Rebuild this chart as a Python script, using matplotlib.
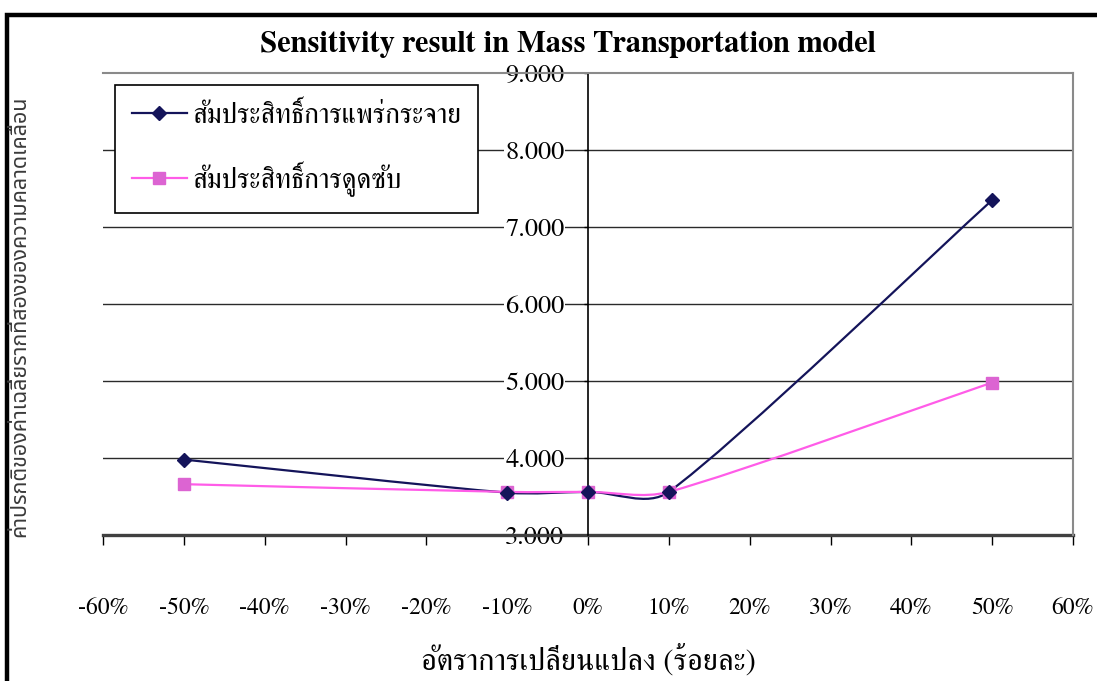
import matplotlib
matplotlib.use("Agg")
import matplotlib.pyplot as plt
import numpy as np
from matplotlib.path import Path
from matplotlib.patches import PathPatch, Rectangle
from matplotlib.lines import Line2D
from matplotlib.ticker import FuncFormatter

plt.rcParams['font.family'] = ['FreeSerif', 'DejaVu Serif']

# percentage change of each coefficient
change_pct = [-50, -10, 0, 10, 50]
diffusion = [3.98, 3.55, 3.56, 3.56, 7.35]
absorption = [3.66, 3.56, 3.56, 3.56, 4.98]

series_names = ['สัมประสิทธิ์การแพร่กระจาย', 'สัมประสิทธิ์การดูดซับ']
title = 'Sensitivity result in Mass Transportation model'
x_label = 'อัตราการเปลี่ยนแปลง (ร้อยละ)'
y_label = 'ค่าปรกติของค่าเฉลี่ยรากที่สองของความคลาดเคลื่อน'

x_ticks = list(range(-60, 61, 10))
y_ticks = [3, 4, 5, 6, 7, 8, 9]

NAVY = '#14145a'
PINK_LINE = '#ff5ce8'
PINK_MARK = '#dc64d2'


def smooth_path(ax, xs, ys):
    """Excel-style smoothed line as cubic Bezier segments (computed in pixel space)."""
    pts = ax.transData.transform(np.column_stack([xs, ys]))
    n = len(pts)
    verts = [pts[0]]
    codes = [Path.MOVETO]
    for i in range(n - 1):
        p0 = pts[max(i - 1, 0)]
        p1 = pts[i]
        p2 = pts[i + 1]
        p3 = pts[min(i + 2, n - 1)]
        seg = np.hypot(*(p2 - p1)) / 3.0
        d1 = (p2 - p0) / 6.0
        d2 = (p3 - p1) / 6.0
        for d in (d1, d2):
            m = np.hypot(*d)
            if m > seg:
                d *= seg / m
        verts += [p1 + d1, p2 - d2, p2]
        codes += [Path.CURVE4] * 3
    data_verts = ax.transData.inverted().transform(np.array(verts))
    return Path(data_verts, codes)


fig = plt.figure(figsize=(10.97, 6.81), dpi=100)
ax = fig.add_axes([103 / 1097, 1 - 535 / 681, 970 / 1097, 462 / 681])
ax.set_xlim(-60, 60)
ax.set_ylim(3, 9)

# spines: value axis crosses at 0%
ax.spines['left'].set_position(('data', 0))
ax.spines['left'].set_color('black')
ax.spines['left'].set_linewidth(1.2)
ax.spines['top'].set_color('#8a8a8a')
ax.spines['right'].set_color('#8a8a8a')
ax.spines['top'].set_linewidth(1.5)
ax.spines['right'].set_linewidth(1.5)
ax.spines['bottom'].set_color('#404040')
ax.spines['bottom'].set_linewidth(2.4)
ax.spines['bottom'].set_zorder(2)

ax.set_yticks(y_ticks)
ax.set_xticks(x_ticks)
ax.yaxis.set_major_formatter(FuncFormatter(lambda v, p: f'{v:.3f}'))
ax.xaxis.set_major_formatter(FuncFormatter(lambda v, p: f'{v:.0f}%'))
ax.tick_params(axis='y', direction='out', length=3, width=1, pad=14,
               labelsize=19, colors='black')
ax.tick_params(axis='x', direction='out', length=7, width=1, pad=38,
               labelsize=17, colors='black')

for yv in y_ticks[:-1]:
    ax.axhline(yv, color='#2a2a2a', linewidth=1.0, zorder=1)
ax.axhline(y_ticks[-1], color='#555555', linewidth=1.3, zorder=1)

# value labels sit on a white patch over the gridlines
for lbl in ax.get_yticklabels():
    lbl.set_bbox(dict(facecolor='white', edgecolor='none', pad=0.5))
    lbl.set_zorder(6)

# smoothed lines
for vals, col in ((diffusion, NAVY), (absorption, PINK_LINE)):
    path = smooth_path(ax, change_pct, vals)
    ax.add_patch(PathPatch(path, facecolor='none', edgecolor=col,
                           linewidth=1.6, zorder=3))

ax.plot(change_pct, absorption, linestyle='none', marker='s', markersize=8.5,
        color=PINK_MARK, zorder=4)
ax.plot(change_pct, diffusion, linestyle='none', marker='D', markersize=7.5,
        color=NAVY, zorder=5)

handles = [
    Line2D([], [], color=NAVY, linewidth=1.6, marker='D', markersize=7.5),
    Line2D([], [], color=PINK_LINE, linewidth=1.6, marker='s', markersize=8.5,
           markerfacecolor=PINK_MARK, markeredgecolor=PINK_MARK),
]
leg = ax.legend(handles, series_names, loc='upper left',
                bbox_to_anchor=(12 / 970, 1 - 12 / 462), borderaxespad=0,
                fontsize=20, frameon=True, fancybox=False, handlelength=2.0,
                labelspacing=1.15, borderpad=0.6, handletextpad=0.2)
leg.get_frame().set_edgecolor('black')
leg.get_frame().set_linewidth(1.2)
leg.get_frame().set_facecolor('white')
leg.get_frame().set_alpha(1)
leg.set_zorder(7)

fig.text(568 / 1097, 1 - 44 / 681, title, ha='center', va='center',
         fontsize=22, fontweight='bold')
fig.text(588 / 1097, 1 - 660 / 681, x_label, ha='center', va='center',
         fontsize=22)
fig.text(20 / 1097, 1 - 316 / 681, y_label, ha='center', va='center',
         rotation=90, fontsize=15.5, family=['Noto Sans Thai', 'DejaVu Sans'],
         color='#3a3a3a')

# outer chart border
fig.add_artist(Rectangle((7 / 1097, -0.5), 1.5, 1.5 - 15 / 681,
                         transform=fig.transFigure, fill=False,
                         edgecolor='black', linewidth=3.2))

fig.savefig('out.png', dpi=100)
